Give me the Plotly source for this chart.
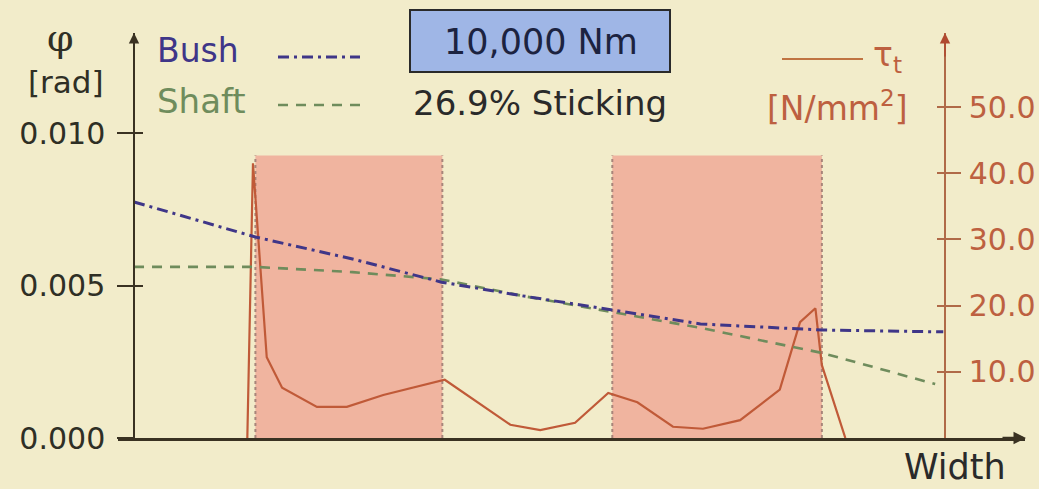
import plotly.graph_objects as go

# ---------------- data ----------------
bush_x = [0, 15, 27, 38, 48, 59, 70, 85, 100]
bush_phi = [0.00774, 0.00659, 0.00587, 0.00511, 0.00466, 0.00420, 0.00374, 0.00354, 0.00348]

shaft_x = [0, 15, 27, 38, 48, 59, 70, 85, 99]
shaft_phi = [0.00561, 0.00561, 0.00544, 0.00520, 0.00466, 0.00413, 0.00361, 0.00279, 0.00177]

tau_x = [14.0, 14.7, 16.4, 18.3, 22.6, 26.3, 30.8, 38.4, 46.5, 50.2, 54.5, 58.6,
         62.2, 66.6, 70.3, 74.9, 79.8, 82.3, 84.2, 85.0, 87.9]
tau_val = [0.0, 41.5, 12.2, 7.6, 4.7, 4.7, 6.5, 8.8, 2.0, 1.2, 2.3, 6.8,
           5.4, 1.7, 1.4, 2.7, 7.3, 17.5, 19.6, 11.0, 0.0]

stick_start = [15.0, 59.1]
stick_end = [38.1, 85.0]
stick_top = 42.7  # in tau units

phi_ticks = [0.0, 0.005, 0.010]
tau_ticks = [10.0, 20.0, 30.0, 40.0, 50.0]

torque_label = "10,000 Nm"
sticking_label = "26.9% Sticking"

# ---------------- styling ----------------
W, H = 1039, 489
L, R, T, B = 118, 14, 33, 51
PW, PH = W - L - R, H - T - B
BG = "#f2ecca"
AXC = "#3a3222"
TAUC = "#c05a38"
TAUTXT = "#bd6040"
BUSHC = "#3f3688"
SHAFTC = "#6f8c5c"
FONT = "DejaVu Sans"

X_RANGE = [-1.98, 110.1]
PHI_RANGE = [0, 0.01328]
TAU_RANGE = [0, 61.2]


def px(xp):
    return (xp - L) / PW


def py(yp):
    return (T + PH - yp) / PH


fig = go.Figure()

# tau on base axis (right), phi on overlay axis (left) so phi lines draw on top
fig.add_trace(go.Scatter(x=tau_x, y=tau_val, mode="lines", yaxis="y",
                         line=dict(color=TAUC, width=2.2), showlegend=False, hoverinfo="skip"))
fig.add_trace(go.Scatter(x=shaft_x, y=shaft_phi, mode="lines", yaxis="y2",
                         line=dict(color=SHAFTC, width=2.6, dash="10px,8px"),
                         showlegend=False, hoverinfo="skip"))
fig.add_trace(go.Scatter(x=bush_x, y=bush_phi, mode="lines", yaxis="y2",
                         line=dict(color=BUSHC, width=3, dash="11px,5px,3px,5px"),
                         showlegend=False, hoverinfo="skip"))
# empty traces to make the inner-tick axes render
fig.add_trace(go.Scatter(x=[], y=[], yaxis="y3", showlegend=False, hoverinfo="skip"))
fig.add_trace(go.Scatter(x=[], y=[], yaxis="y4", showlegend=False, hoverinfo="skip"))

shapes = []
for s, e in zip(stick_start, stick_end):
    shapes.append(dict(type="rect", xref="x", yref="y", x0=s, x1=e, y0=0, y1=stick_top,
                       fillcolor="#f0b49f", line=dict(width=0), layer="below"))
    for xv in (s, e):
        shapes.append(dict(type="line", xref="x", yref="y", x0=xv, x1=xv, y0=0, y1=stick_top,
                           line=dict(color="#a8857a", width=2, dash="dot"), layer="below"))

# legend sample lines
shapes.append(dict(type="line", xref="paper", yref="paper", x0=px(278), x1=px(360), y0=py(57), y1=py(57),
                   line=dict(color=BUSHC, width=3, dash="11px,5px,3px,5px")))
shapes.append(dict(type="line", xref="paper", yref="paper", x0=px(278), x1=px(360), y0=py(105), y1=py(105),
                   line=dict(color=SHAFTC, width=2.6, dash="10px,8px")))
shapes.append(dict(type="line", xref="paper", yref="paper", x0=px(782), x1=px(863), y0=py(59), y1=py(59),
                   line=dict(color="#c07442", width=2.2)))
# torque box
shapes.append(dict(type="rect", xref="paper", yref="paper", x0=px(410), x1=px(670), y0=py(72), y1=py(10),
                   fillcolor="#9fb6e6", line=dict(color="#2a2a2a", width=2)))

annotations = []


def text(t, xp, yp, size, color, xanchor="center", family=FONT):
    annotations.append(dict(text=t, x=px(xp), y=py(yp), xref="paper", yref="paper",
                            xanchor=xanchor, yanchor="middle", showarrow=False,
                            font=dict(size=size, color=color, family=family)))


text("φ", 60, 38, 38, "#2f2f25", family="DejaVu Serif")
text("[rad]", 66, 82, 31, "#2f2f25")
text("Bush", 155, 51, 33, BUSHC, "left")
text("Shaft", 155, 101, 34, SHAFTC, "left")
text(torque_label, 541, 42, 35, "#1c2340")
text(sticking_label, 540, 103, 34, "#2a2a2a")
text("τ<sub>t</sub>", 871, 56, 33, TAUTXT, "left")
text("[N/mm<sup>2</sup>]", 837, 107, 33, TAUTXT)
text("Width", 955, 467, 35, "#2a2a2a")

# axis arrowheads
annotations.append(dict(x=px(134), y=py(33), xref="paper", yref="paper", ax=0, ay=25, text="",
                        showarrow=True, arrowhead=2, arrowsize=1.3, arrowwidth=1.6, arrowcolor=AXC))
annotations.append(dict(x=px(945), y=py(33), xref="paper", yref="paper", ax=0, ay=25, text="",
                        showarrow=True, arrowhead=2, arrowsize=1.3, arrowwidth=1.6, arrowcolor="#b04a30"))
annotations.append(dict(x=px(1026), y=py(438), xref="paper", yref="paper", ax=-25, ay=0, text="",
                        showarrow=True, arrowhead=2, arrowsize=1.0, arrowwidth=2.5, arrowcolor=AXC))

common = dict(showgrid=False, zeroline=False, anchor="free", automargin=False)

fig.update_layout(
    width=W, height=H,
    margin=dict(l=L, r=R, t=T, b=B, pad=0, autoexpand=False),
    paper_bgcolor=BG, plot_bgcolor=BG,
    showlegend=False,
    font=dict(family=FONT),
    xaxis=dict(range=X_RANGE, showgrid=False, zeroline=False, showticklabels=False, ticks="",
               showline=True, linecolor=AXC, linewidth=2.5, automargin=False),
    yaxis=dict(range=TAU_RANGE, side="right", position=px(945), tickvals=tau_ticks,
               tickformat=".1f", ticks="outside", ticklen=15, tickwidth=1.5, tickcolor="#b06a48",
               showline=True, linecolor="#b06a48", linewidth=1.5, ticklabelstandoff=2,
               tickfont=dict(size=30, color=TAUTXT, family=FONT), **common),
    yaxis2=dict(range=PHI_RANGE, side="left", overlaying="y", position=px(134), tickvals=phi_ticks,
                tickformat=".3f", ticks="outside", ticklen=16, tickwidth=1.5, tickcolor=AXC,
                showline=True, linecolor=AXC, linewidth=1.5, ticklabelstandoff=6,
                tickfont=dict(size=30, color="#2f2f25", family=FONT), **common),
    yaxis3=dict(range=TAU_RANGE, side="right", overlaying="y", position=px(945), tickvals=tau_ticks,
                ticks="inside", ticklen=8, tickwidth=1.5, tickcolor="#b06a48",
                showticklabels=False, showline=False, **common),
    yaxis4=dict(range=PHI_RANGE, side="left", overlaying="y", position=px(134), tickvals=phi_ticks[1:],
                ticks="inside", ticklen=8, tickwidth=1.5, tickcolor=AXC,
                showticklabels=False, showline=False, **common),
    shapes=shapes,
    annotations=annotations,
)

fig.write_html("out.html", config={"displayModeBar": False},
               post_script="document.body.style.margin='0';document.body.style.overflow='hidden';")
